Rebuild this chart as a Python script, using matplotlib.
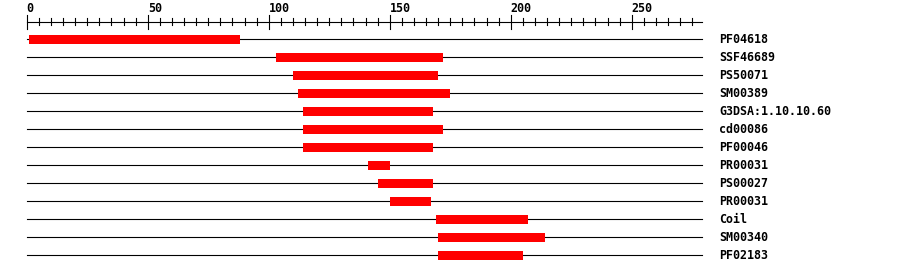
import matplotlib
matplotlib.use("Agg")
import matplotlib.pyplot as plt

# domain hits (residue positions)
names = ["PF04618", "SSF46689", "PS50071", "SM00389", "G3DSA:1.10.10.60",
         "cd00086", "PF00046", "PR00031", "PS00027", "PR00031", "Coil",
         "SM00340", "PF02183"]
starts = [1, 103, 110, 112, 114, 114, 114, 141, 145, 150, 169, 170, 170]
ends = [88, 172, 170, 175, 168, 172, 168, 150, 168, 167, 207, 214, 205]
seq_len = 279
major_ticks = [0, 50, 100, 150, 200, 250]

W, H = 900, 274
fig = plt.figure(figsize=(W / 100, H / 100), dpi=100)
ax = fig.add_axes([0, 0, 1, 1])
px_per_unit = 2.42
x0 = 26.7
ax.set_xlim(-x0 / px_per_unit, (W - x0) / px_per_unit)
row_gap, row0 = 18.0, 39.0
ax.set_ylim((H - row0) / row_gap, -row0 / row_gap)
ax.axis("off")

font = dict(family="DejaVu Sans Mono", fontweight="bold", fontsize=8.4)

# ruler
ry = (21.5 - row0) / row_gap
ax.plot([0, seq_len], [ry, ry], color="black", lw=0.8)
for t in range(0, seq_len, 5):
    if t in major_ticks:
        ax.plot([t, t], [(14.7 - row0) / row_gap, (28.7 - row0) / row_gap], color="black", lw=0.8)
        ax.text(t, (12.5 - row0) / row_gap, str(t), ha="left", va="baseline", **font)
    else:
        ax.plot([t, t], [(18 - row0) / row_gap, (25 - row0) / row_gap], color="black", lw=0.8)

for i, (n, s, e) in enumerate(zip(names, starts, ends)):
    ax.plot([0, seq_len], [i, i], color="black", lw=0.8, zorder=1)
    ax.barh(i, e - s, left=s, height=0.5, color="#ff0000", zorder=2)
    ax.text(286.1, i + 0.03, n, ha="left", va="center", **font)

fig.savefig("out.png", dpi=100)
